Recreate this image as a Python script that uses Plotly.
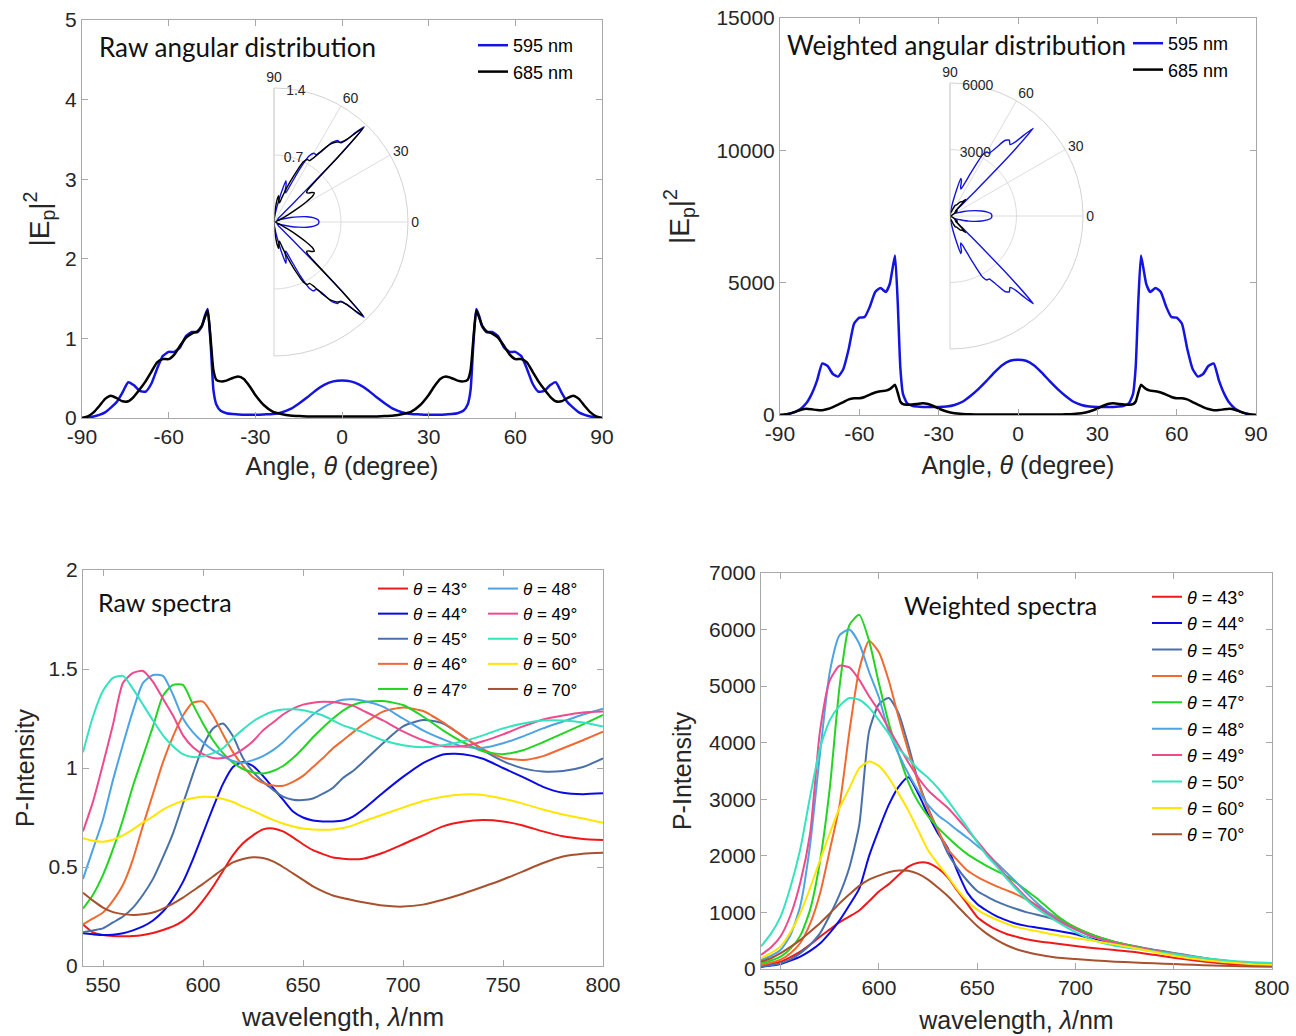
import plotly.graph_objects as go

W, H = 1296, 1036
def px(x): return x / W
def py(y): return 1 - y / H

# ---------------- angular data ----------------
theta_deg = [-90, -88, -86, -84, -82, -80, -78, -76, -74, -72, -70, -68, -66, -64, -62, -60, -58, -56, -54, -52, -50,
             -48.5, -47.5, -46.5, -45.5, -44.5, -43.5, -42, -40, -38, -36, -34, -32, -30, -27, -24, -21, -18, -15, -12,
             -9, -6, -3, 0, 3, 6, 9, 12, 15, 18, 21, 24, 27, 30, 32, 34, 36, 38, 40, 42, 43.5, 44.5, 45.5, 46.5, 47.5,
             48.5, 50, 52, 54, 56, 58, 60, 62, 64, 66, 68, 70, 72, 74, 76, 78, 80, 82, 84, 86, 88, 90]

raw_595 = [0.00, 0.01, 0.02, 0.04, 0.07, 0.13, 0.20, 0.32, 0.45, 0.41, 0.34, 0.33, 0.43, 0.62, 0.78, 0.83, 0.83, 0.89, 1.03, 1.08, 1.08,
           1.15, 1.28, 1.37, 0.95, 0.35, 0.17, 0.09, 0.06, 0.05, 0.045, 0.04, 0.04, 0.04, 0.045, 0.05, 0.07, 0.11, 0.18, 0.26,
           0.35, 0.42, 0.46, 0.47, 0.46, 0.42, 0.35, 0.26, 0.18, 0.11, 0.07, 0.05, 0.045, 0.04, 0.04, 0.04, 0.045, 0.05, 0.06, 0.09,
           0.17, 0.35, 0.95, 1.37, 1.28, 1.15, 1.08, 1.08, 1.03, 0.89, 0.83, 0.83, 0.78, 0.62, 0.43, 0.33, 0.34, 0.41, 0.45,
           0.32, 0.20, 0.13, 0.07, 0.04, 0.02, 0.01, 0.00]
raw_685 = [0.00, 0.02, 0.07, 0.15, 0.24, 0.28, 0.25, 0.21, 0.21, 0.27, 0.36, 0.46, 0.58, 0.70, 0.74, 0.74, 0.80, 0.91, 1.01, 1.06, 1.09,
           1.16, 1.26, 1.35, 1.00, 0.60, 0.48, 0.46, 0.47, 0.50, 0.52, 0.49, 0.40, 0.29, 0.16, 0.08, 0.05, 0.03, 0.025, 0.02,
           0.02, 0.02, 0.02, 0.02, 0.02, 0.02, 0.02, 0.02, 0.025, 0.03, 0.05, 0.08, 0.16, 0.29, 0.40, 0.49, 0.52, 0.50, 0.47, 0.46,
           0.48, 0.60, 1.00, 1.35, 1.26, 1.16, 1.09, 1.06, 1.01, 0.91, 0.80, 0.74, 0.74, 0.70, 0.58, 0.46, 0.36, 0.27, 0.21,
           0.21, 0.25, 0.28, 0.24, 0.15, 0.07, 0.02, 0.00]

wtd_595 = [0, 20, 60, 130, 250, 450, 800, 1300, 1950, 1850, 1550, 1450, 1750, 2500, 3450, 3680, 3700, 4100, 4650, 4800, 4650,
           4950, 5500, 6030, 4300, 1800, 800, 450, 350, 320, 305, 300, 300, 300, 320, 380, 500, 720, 980, 1280,
           1600, 1880, 2050, 2090, 2050, 1880, 1600, 1280, 980, 720, 500, 380, 320, 300, 300, 300, 305, 320, 350, 450,
           800, 1800, 4300, 6030, 5500, 4950, 4650, 4800, 4650, 4100, 3700, 3680, 3450, 2500, 1750, 1450, 1550, 1850, 1950,
           1300, 800, 450, 250, 130, 60, 20, 0]
wtd_685 = [0, 20, 60, 130, 200, 235, 215, 185, 180, 225, 300, 390, 490, 590, 630, 630, 680, 770, 850, 900, 920,
           980, 1060, 1140, 850, 510, 410, 390, 400, 420, 440, 415, 340, 245, 135, 70, 40, 25, 20, 17,
           17, 17, 17, 17, 17, 17, 17, 17, 20, 25, 40, 70, 135, 245, 340, 415, 440, 420, 400, 390,
           410, 510, 850, 1140, 1060, 980, 920, 900, 850, 770, 680, 630, 630, 590, 490, 390, 300, 225, 180,
           185, 215, 235, 200, 130, 60, 20, 0]

# polar inset of the weighted panel
polar_w595 = [0, 20, 55, 120, 225, 405, 725, 1175, 1765, 1675, 1405, 1310, 1585, 2265, 3120, 3330, 3350, 3710, 4210, 4345, 4210,
              4480, 4980, 5460, 3890, 1630, 725, 405, 315, 290, 275, 270, 270, 270, 290, 345, 455, 650, 885, 1160,
              1450, 1700, 1855, 1890, 1855, 1700, 1450, 1160, 885, 650, 455, 345, 290, 270, 270, 270, 275, 290, 315, 405,
              725, 1630, 3890, 5460, 4980, 4480, 4210, 4345, 4210, 3710, 3350, 3330, 3120, 2265, 1585, 1310, 1405, 1675, 1765,
              1175, 725, 405, 225, 120, 55, 20, 0]
polar_w685 = [0, 20, 55, 120, 180, 215, 195, 165, 165, 205, 270, 355, 445, 535, 570, 570, 615, 695, 770, 815, 835,
              885, 960, 1030, 770, 460, 370, 355, 360, 380, 400, 375, 310, 220, 120, 65, 35, 25, 18, 15,
              15, 15, 15, 15, 15, 15, 15, 15, 18, 25, 35, 65, 120, 220, 310, 375, 400, 380, 360, 355,
              370, 460, 770, 1030, 960, 885, 835, 815, 770, 695, 615, 570, 570, 535, 445, 355, 270, 205, 165,
              165, 195, 215, 180, 120, 55, 20, 0]

angle_ticks = [-90, -60, -30, 0, 30, 60, 90]
angle_ticktext = ['-90', '-60', '-30', '0', '30', '60', '90']
polar_ticks = [0, 30, 60, 90, 270, 300, 330]

# ---------------- spectra ----------------
wavelength = [540, 545, 550, 555, 560, 565, 570, 575, 580, 585, 590, 595, 600, 605, 610, 615, 620, 625, 630, 635,
              640, 645, 650, 655, 660, 665, 670, 675, 680, 690, 700, 710, 720, 730, 740, 750, 760, 770, 780, 790, 800]
angles = ['43', '44', '45', '46', '47', '48', '49', '50', '60', '70']

raw_43 = [0.21, 0.17, 0.157, 0.152, 0.15, 0.151, 0.157, 0.167, 0.182, 0.20, 0.228, 0.27, 0.33, 0.40, 0.48, 0.56, 0.62, 0.66, 0.69, 0.695,
          0.68, 0.65, 0.615, 0.585, 0.565, 0.548, 0.542, 0.539, 0.542, 0.572, 0.615, 0.66, 0.705, 0.728, 0.737, 0.73, 0.71, 0.68, 0.655, 0.642, 0.636]
raw_44 = [0.165, 0.16, 0.156, 0.158, 0.165, 0.18, 0.20, 0.23, 0.275, 0.34, 0.425, 0.54, 0.67, 0.80, 0.92, 1.005, 1.03, 1.01, 0.96, 0.90,
          0.84, 0.78, 0.75, 0.735, 0.73, 0.73, 0.735, 0.755, 0.79, 0.875, 0.955, 1.025, 1.068, 1.07, 1.047, 1.0, 0.954, 0.905, 0.875, 0.868, 0.872]
raw_45 = [0.17, 0.18, 0.19, 0.22, 0.25, 0.295, 0.36, 0.44, 0.55, 0.67, 0.82, 0.97, 1.11, 1.20, 1.225, 1.16, 1.05, 0.98, 0.93, 0.89,
          0.855, 0.84, 0.838, 0.846, 0.87, 0.90, 0.95, 0.985, 1.03, 1.125, 1.21, 1.242, 1.225, 1.16, 1.09, 1.035, 0.998, 0.982, 0.985, 1.005, 1.049]
raw_46 = [0.21, 0.24, 0.27, 0.33, 0.41, 0.54, 0.71, 0.87, 1.03, 1.16, 1.265, 1.33, 1.335, 1.265, 1.17, 1.08, 1.01, 0.955, 0.925, 0.912,
          0.91, 0.93, 0.96, 1.005, 1.05, 1.10, 1.14, 1.18, 1.22, 1.285, 1.306, 1.288, 1.23, 1.16, 1.095, 1.052, 1.04, 1.06, 1.10, 1.14, 1.183]
raw_47 = [0.29, 0.36, 0.46, 0.59, 0.74, 0.91, 1.06, 1.21, 1.365, 1.42, 1.42, 1.32, 1.225, 1.14, 1.075, 1.027, 0.995, 0.978, 0.972, 0.985,
          1.01, 1.05, 1.10, 1.155, 1.205, 1.25, 1.29, 1.318, 1.333, 1.338, 1.318, 1.26, 1.19, 1.13, 1.085, 1.07, 1.09, 1.13, 1.175, 1.22, 1.268]
raw_48 = [0.44, 0.59, 0.74, 0.94, 1.12, 1.29, 1.43, 1.47, 1.465, 1.37, 1.25, 1.18, 1.13, 1.09, 1.06, 1.035, 1.027, 1.04, 1.06, 1.09,
          1.13, 1.18, 1.225, 1.27, 1.305, 1.33, 1.345, 1.347, 1.34, 1.31, 1.25, 1.19, 1.145, 1.108, 1.102, 1.125, 1.16, 1.20, 1.235, 1.27, 1.30]
raw_49 = [0.68, 0.83, 1.02, 1.22, 1.43, 1.48, 1.49, 1.435, 1.35, 1.265, 1.165, 1.105, 1.07, 1.05, 1.05, 1.065, 1.095, 1.135, 1.19, 1.23,
          1.27, 1.30, 1.32, 1.33, 1.335, 1.333, 1.325, 1.315, 1.29, 1.24, 1.185, 1.14, 1.11, 1.11, 1.135, 1.17, 1.21, 1.245, 1.265, 1.28, 1.285]
raw_50 = [1.08, 1.26, 1.39, 1.455, 1.465, 1.40, 1.32, 1.24, 1.165, 1.11, 1.07, 1.055, 1.06, 1.075, 1.10, 1.15, 1.195, 1.235, 1.265, 1.285,
          1.295, 1.297, 1.292, 1.28, 1.265, 1.24, 1.215, 1.198, 1.18, 1.14, 1.115, 1.105, 1.115, 1.135, 1.165, 1.20, 1.225, 1.24, 1.24, 1.23, 1.21]
raw_60 = [0.645, 0.632, 0.628, 0.638, 0.66, 0.69, 0.725, 0.755, 0.79, 0.815, 0.835, 0.848, 0.855, 0.853, 0.843, 0.828, 0.805, 0.785, 0.76, 0.738,
          0.72, 0.705, 0.695, 0.69, 0.688, 0.69, 0.697, 0.71, 0.73, 0.765, 0.80, 0.833, 0.855, 0.866, 0.864, 0.845, 0.82, 0.79, 0.765, 0.745, 0.724]
raw_70 = [0.37, 0.33, 0.295, 0.272, 0.262, 0.258, 0.261, 0.27, 0.29, 0.315, 0.345, 0.38, 0.415, 0.452, 0.49, 0.523, 0.54, 0.549, 0.545, 0.528,
          0.50, 0.468, 0.435, 0.402, 0.377, 0.356, 0.343, 0.332, 0.322, 0.305, 0.300, 0.31, 0.335, 0.365, 0.40, 0.437, 0.478, 0.52, 0.553, 0.567, 0.572]

w_43 = [65, 95, 130, 210, 306, 430, 570, 700, 830, 930, 1035, 1200, 1370, 1500, 1660, 1810, 1880, 1875, 1780, 1620,
        1380, 1150, 920, 790, 690, 620, 570, 525, 495, 450, 405, 368, 335, 300, 250, 200, 155, 115, 85, 65, 55]
w_44 = [40, 60, 90, 150, 220, 320, 450, 640, 860, 1130, 1420, 2000, 2470, 2900, 3220, 3390, 3100, 2730, 2400, 2140,
        1720, 1350, 1150, 1030, 930, 860, 800, 762, 735, 680, 615, 520, 450, 385, 320, 265, 200, 150, 115, 90, 70]
w_45 = [42, 65, 100, 170, 280, 430, 630, 950, 1320, 1800, 2550, 4200, 4680, 4790, 4520, 3950, 3320, 2850, 2450, 2050,
        1780, 1560, 1380, 1280, 1190, 1120, 1060, 1005, 965, 870, 715, 585, 480, 405, 340, 285, 225, 170, 130, 100, 80]
w_46 = [70, 110, 165, 280, 460, 800, 1330, 2100, 2900, 4200, 5300, 5800, 5600, 5100, 4450, 3850, 3300, 2820, 2450, 2120,
        1920, 1740, 1630, 1540, 1460, 1390, 1320, 1230, 1130, 920, 735, 585, 480, 400, 330, 275, 215, 165, 125, 95, 75]
w_47 = [100, 150, 220, 360, 590, 1050, 1900, 3200, 5000, 6080, 6260, 5800, 5050, 4350, 3800, 3300, 2950, 2700, 2500, 2330,
        2170, 2030, 1920, 1820, 1730, 1640, 1520, 1390, 1260, 960, 730, 585, 480, 400, 330, 275, 215, 170, 130, 100, 80]
w_48 = [160, 230, 340, 600, 1120, 2200, 3800, 5250, 5900, 6000, 5750, 5250, 4800, 4200, 3800, 3450, 3150, 2900, 2720, 2590,
        2450, 2320, 2180, 2040, 1870, 1700, 1530, 1350, 1180, 900, 700, 555, 460, 385, 325, 270, 215, 170, 130, 100, 80]
w_49 = [250, 380, 580, 950, 1530, 2400, 4200, 5100, 5360, 5330, 5110, 4820, 4560, 4250, 3950, 3650, 3380, 3160, 3000, 2850,
        2660, 2460, 2260, 2050, 1840, 1630, 1440, 1260, 1120, 880, 700, 555, 460, 385, 325, 270, 215, 170, 130, 100, 80]
w_50 = [400, 620, 930, 1450, 2120, 3050, 3900, 4400, 4650, 4790, 4760, 4620, 4400, 4160, 3900, 3720, 3530, 3380, 3200, 2980,
        2740, 2500, 2240, 2000, 1810, 1600, 1410, 1230, 1080, 850, 650, 500, 410, 360, 310, 265, 215, 175, 140, 120, 105]
w_60 = [190, 280, 400, 650, 990, 1430, 1920, 2400, 2850, 3200, 3550, 3670, 3590, 3380, 3100, 2800, 2450, 2100, 1860, 1640,
        1400, 1200, 1050, 950, 870, 800, 740, 705, 670, 600, 545, 495, 435, 370, 300, 235, 180, 140, 110, 85, 70]
w_70 = [130, 190, 280, 390, 515, 660, 810, 980, 1160, 1320, 1470, 1580, 1650, 1710, 1740, 1735, 1680, 1580, 1440, 1290,
        1110, 930, 760, 620, 510, 420, 350, 300, 260, 205, 175, 150, 130, 115, 100, 88, 75, 62, 52, 45, 40]

raw_spectra = [raw_43, raw_44, raw_45, raw_46, raw_47, raw_48, raw_49, raw_50, raw_60, raw_70]
wtd_spectra = [w_43, w_44, w_45, w_46, w_47, w_48, w_49, w_50, w_60, w_70]
spec_colors = ['#F01818', '#0A0AE6', '#4A70AA', '#F06A30', '#22D522', '#4DA3E3', '#EE4B8E', '#35E3BE', '#FFE500', '#A8512F']

BLUE = '#1414E0'
FONT = 'Liberation Sans, Arial, Helvetica, sans-serif'
LABEL_FONT = 'Lato, Calibri, sans-serif'
AX = '#A8A8A8'
TXT = '#262626'

fig = go.Figure()

# ----- panel A -----
fig.add_trace(go.Scatter(x=theta_deg, y=raw_595, mode='lines', name='595 nm', legend='legend',
                         line=dict(color=BLUE, width=2.5, shape='spline', smoothing=0.5), xaxis='x', yaxis='y'))
fig.add_trace(go.Scatter(x=theta_deg, y=raw_685, mode='lines', name='685 nm', legend='legend',
                         line=dict(color='black', width=2.5, shape='spline', smoothing=0.5), xaxis='x', yaxis='y'))
fig.add_trace(go.Scatterpolar(theta=theta_deg, r=raw_595, mode='lines', subplot='polar', showlegend=False,
                              line=dict(color=BLUE, width=1.4, shape='spline', smoothing=0.5)))
fig.add_trace(go.Scatterpolar(theta=theta_deg, r=raw_685, mode='lines', subplot='polar', showlegend=False,
                              line=dict(color='black', width=1.4, shape='spline', smoothing=0.5)))

# ----- panel B -----
fig.add_trace(go.Scatter(x=theta_deg, y=wtd_595, mode='lines', name='595 nm', legend='legend2',
                         line=dict(color=BLUE, width=2.5, shape='spline', smoothing=0.5), xaxis='x2', yaxis='y2'))
fig.add_trace(go.Scatter(x=theta_deg, y=wtd_685, mode='lines', name='685 nm', legend='legend2',
                         line=dict(color='black', width=2.5, shape='spline', smoothing=0.5), xaxis='x2', yaxis='y2'))
fig.add_trace(go.Scatterpolar(theta=theta_deg, r=polar_w595, mode='lines', subplot='polar2', showlegend=False,
                              line=dict(color=BLUE, width=1.4, shape='spline', smoothing=0.5)))
fig.add_trace(go.Scatterpolar(theta=theta_deg, r=polar_w685, mode='lines', subplot='polar2', showlegend=False,
                              line=dict(color='black', width=1.4, shape='spline', smoothing=0.5)))

# ----- panel C -----
for i, (a, ys, c) in enumerate(zip(angles, raw_spectra, spec_colors)):
    fig.add_trace(go.Scatter(x=wavelength, y=ys, mode='lines', name=f'<i>θ</i> = {a}°',
                             legend='legend3' if i < 5 else 'legend4',
                             line=dict(color=c, width=2, shape='spline', smoothing=0.6), xaxis='x3', yaxis='y3'))
# ----- panel D -----
for a, ys, c in zip(angles, wtd_spectra, spec_colors):
    fig.add_trace(go.Scatter(x=wavelength, y=ys, mode='lines', name=f'<i>θ</i> = {a}°', legend='legend5',
                             line=dict(color=c, width=2, shape='spline', smoothing=0.6), xaxis='x4', yaxis='y4'))

def axis(domain, rng, title, tickvals, anchor, standoff, title_size=25, ticktext=None):
    d = dict(domain=domain, range=rng, anchor=anchor, tickvals=tickvals, automargin=False,
             showline=True, linecolor=AX, linewidth=1, mirror='ticks',
             ticks='inside', ticklen=6, tickcolor=AX, showgrid=False, zeroline=False,
             tickfont=dict(family=FONT, size=21, color=TXT),
             title=dict(text=title, font=dict(family=FONT, size=title_size, color=TXT), standoff=standoff))
    if ticktext:
        d['ticktext'] = ticktext
    return d

ang_title = 'Angle, <i>θ</i> (degree)'
wl_title = 'wavelength, <i>λ</i>/nm'
ep_title = '|E<sub>p</sub>|<sup>2</sup>'

polar_common = dict(
    sector=[-90, 90], bgcolor='rgba(0,0,0,0)',
    angularaxis=dict(tickmode='array', tickvals=polar_ticks, ticktext=[str(t) for t in polar_ticks],
                     rotation=0, direction='counterclockwise', showline=True, linecolor='#D3D3D3',
                     gridcolor='#DDDDDD', ticks='', tickfont=dict(family=FONT, size=14, color=TXT)),
)

fig.update_layout(
    width=W, height=H, margin=dict(l=0, r=0, t=0, b=0, autoexpand=False),
    paper_bgcolor='white', plot_bgcolor='white',
    xaxis=axis([px(82), px(602)], [-90, 90], ang_title, angle_ticks, 'y', 10, ticktext=angle_ticktext),
    yaxis=axis([py(418), py(20)], [0, 5], ep_title, [0, 1, 2, 3, 4, 5], 'x', 7, 28),
    xaxis2=axis([px(780), px(1256)], [-90, 90], ang_title, angle_ticks, 'y2', 12, ticktext=angle_ticktext),
    yaxis2=axis([py(415), py(18)], [0, 15000], ep_title, [0, 5000, 10000, 15000], 'x2', 18, 28,
                ticktext=['0', '5000', '10000', '15000']),
    xaxis3=axis([px(83), px(603)], [540, 800], wl_title, [550, 600, 650, 700, 750, 800], 'y3', 12, 26),
    yaxis3=axis([py(966), py(570)], [0, 2], 'P-Intensity', [0, 0.5, 1, 1.5, 2], 'x3', 6),
    xaxis4=axis([px(761), px(1272)], [540, 800], wl_title, [550, 600, 650, 700, 750, 800], 'y4', 13),
    yaxis4=axis([py(969), py(573)], [0, 7000], 'P-Intensity', [0, 1000, 2000, 3000, 4000, 5000, 6000, 7000], 'x4', 10,
                ticktext=['0', '1000', '2000', '3000', '4000', '5000', '6000', '7000']),
    polar=dict(domain=dict(x=[px(274), px(408)], y=[py(356), py(88)]),
               radialaxis=dict(range=[0, 1.4], tickvals=[0.7, 1.4], angle=88, tickangle=88, showline=False, ticks='',
                               gridcolor='#DDDDDD', tickfont=dict(family=FONT, size=14, color=TXT)),
               **polar_common),
    polar2=dict(domain=dict(x=[px(950), px(1083)], y=[py(349), py(83)]),
                radialaxis=dict(range=[0, 6000], tickvals=[3000, 6000], angle=88, tickangle=88, showline=False, ticks='',
                                gridcolor='#DDDDDD', tickfont=dict(family=FONT, size=14, color=TXT)),
                **polar_common),
    legend=dict(x=px(473), y=py(27), xanchor='left', yanchor='top', bgcolor='rgba(0,0,0,0)',
                font=dict(family=FONT, size=18, color='black')),
    legend2=dict(x=px(1128), y=py(25), xanchor='left', yanchor='top', bgcolor='rgba(0,0,0,0)',
                 font=dict(family=FONT, size=18, color='black')),
    legend3=dict(x=px(373), y=py(571), xanchor='left', yanchor='top', bgcolor='rgba(0,0,0,0)',
                 font=dict(family=FONT, size=17, color='black')),
    legend4=dict(x=px(483), y=py(571), xanchor='left', yanchor='top', bgcolor='rgba(0,0,0,0)',
                 font=dict(family=FONT, size=17, color='black')),
    legend5=dict(x=px(1147), y=py(578.5), xanchor='left', yanchor='top', bgcolor='rgba(0,0,0,0)',
                 font=dict(family=FONT, size=18, color='black')),
    annotations=[
        dict(text='Raw angular distribution', x=px(97), y=py(47), xref='paper', yref='paper',
             xanchor='left', yanchor='middle', showarrow=False, font=dict(family=LABEL_FONT, size=26, color='#111111')),
        dict(text='Weighted angular distribution', x=px(785), y=py(45), xref='paper', yref='paper',
             xanchor='left', yanchor='middle', showarrow=False, font=dict(family=LABEL_FONT, size=26, color='#111111')),
        dict(text='Raw spectra', x=px(96), y=py(602), xref='paper', yref='paper',
             xanchor='left', yanchor='middle', showarrow=False, font=dict(family=LABEL_FONT, size=25, color='#111111')),
        dict(text='Weighted spectra', x=px(902), y=py(605), xref='paper', yref='paper',
             xanchor='left', yanchor='middle', showarrow=False, font=dict(family=LABEL_FONT, size=25, color='#111111')),
    ],
)

fig.write_html('out.html')
